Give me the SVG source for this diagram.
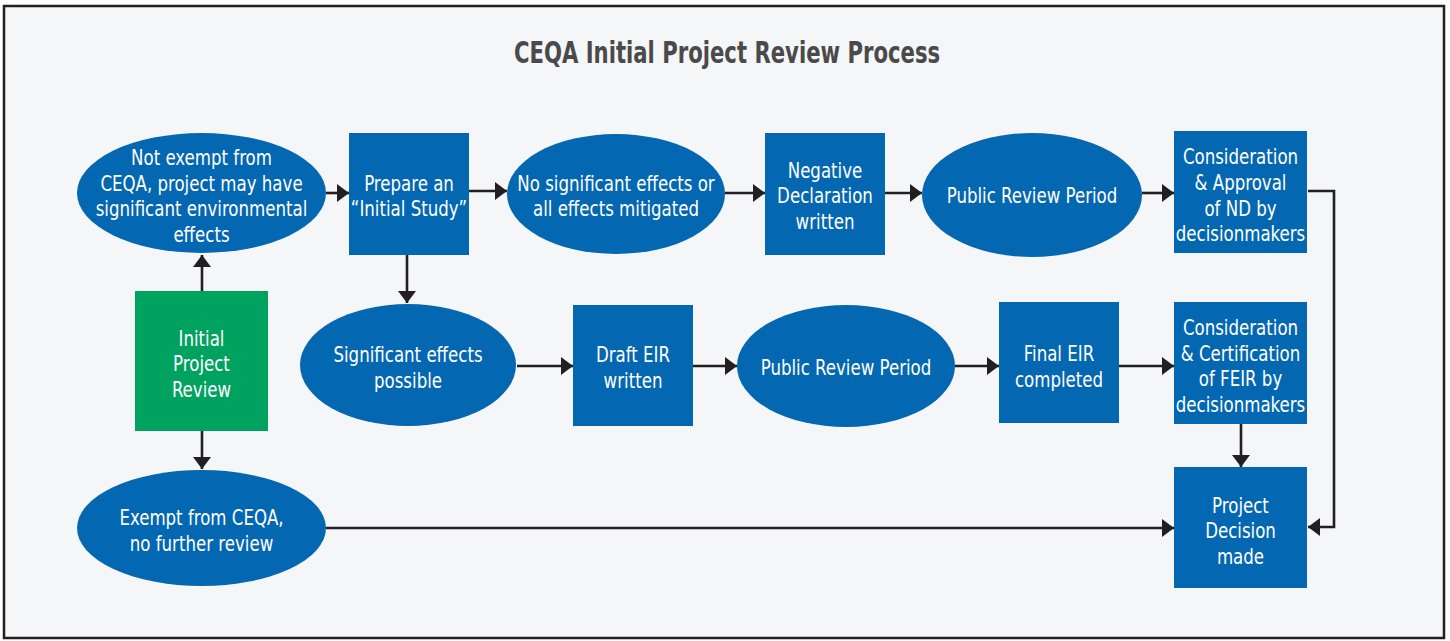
<svg xmlns="http://www.w3.org/2000/svg" width="1450" height="641" viewBox="0 0 1450 641">
<style>
.t{font-family:"DejaVu Sans Condensed","Liberation Sans",sans-serif;font-size:21px;fill:#ffffff;text-anchor:middle;}
.title{font-family:"DejaVu Sans Condensed","Liberation Sans",sans-serif;font-size:31px;font-weight:bold;fill:#4a4a4a;text-anchor:middle;}
.b{fill:#0467b1;}
.g{fill:#00a25f;}
.c{fill:none;stroke:#231f20;stroke-width:2.6;}
</style>
<defs>
<marker id="ah" viewBox="0 0 12 18" refX="12" refY="9" markerWidth="12" markerHeight="18" orient="auto" markerUnits="userSpaceOnUse">
<path d="M0,0 L12,9 L0,18 Z" fill="#231f20"/>
</marker>
</defs>
<rect x="4" y="6" width="1440" height="632" fill="#f4f6f8" stroke="#231f20" stroke-width="2.5"/>
<text class="title" transform="translate(727 63) scale(0.76 1)" x="0" y="0">CEQA Initial Project Review Process</text>

<g id="connectors">
<path class="c" d="M202,291 V255" marker-end="url(#ah)"/>
<path class="c" d="M202,431 V469" marker-end="url(#ah)"/>
<path class="c" d="M326,193 H349" marker-end="url(#ah)"/>
<path class="c" d="M469,191 H507" marker-end="url(#ah)"/>
<path class="c" d="M407,255 V303" marker-end="url(#ah)"/>
<path class="c" d="M725,193 H765" marker-end="url(#ah)"/>
<path class="c" d="M885,193 H922" marker-end="url(#ah)"/>
<path class="c" d="M1142,193 H1174" marker-end="url(#ah)"/>
<path class="c" d="M1308,191 H1334 V527 H1308" marker-end="url(#ah)"/>
<path class="c" d="M517,366 H573" marker-end="url(#ah)"/>
<path class="c" d="M693,366 H737" marker-end="url(#ah)"/>
<path class="c" d="M955,366 H999" marker-end="url(#ah)"/>
<path class="c" d="M1119,366 H1174" marker-end="url(#ah)"/>
<path class="c" d="M1241,424 V467" marker-end="url(#ah)"/>
<path class="c" d="M326,528 H1174" marker-end="url(#ah)"/>
</g>

<g id="not-exempt">
<ellipse class="b" cx="201.5" cy="193" rx="124.5" ry="60"/>
<text class="t" transform="translate(201.5 0) scale(0.88 1)"><tspan x="0" y="165">Not exempt from</tspan><tspan x="0" y="191">CEQA, project may have</tspan><tspan x="0" y="216">significant environmental</tspan><tspan x="0" y="242">effects</tspan></text>
</g>
<g id="initial-study">
<rect class="b" x="349" y="133" width="120" height="122"/>
<text class="t" transform="translate(409 0) scale(0.88 1)"><tspan x="0" y="191">Prepare an</tspan><tspan x="0" y="216">“Initial Study”</tspan></text>
</g>
<g id="no-significant">
<ellipse class="b" cx="616" cy="194" rx="109" ry="60"/>
<text class="t" transform="translate(616 0) scale(0.88 1)"><tspan x="0" y="191">No significant effects or</tspan><tspan x="0" y="216">all effects mitigated</tspan></text>
</g>
<g id="negative-declaration">
<rect class="b" x="765" y="133" width="120" height="122"/>
<text class="t" transform="translate(825 0) scale(0.88 1)"><tspan x="0" y="178">Negative</tspan><tspan x="0" y="203">Declaration</tspan><tspan x="0" y="229">written</tspan></text>
</g>
<g id="public-review-1">
<ellipse class="b" cx="1032" cy="195" rx="110" ry="62"/>
<text class="t" transform="translate(1032 0) scale(0.88 1)" x="0" y="203">Public Review Period</text>
</g>
<g id="approval-nd">
<rect class="b" x="1174" y="131" width="133" height="122"/>
<text class="t" transform="translate(1240.5 0) scale(0.88 1)"><tspan x="0" y="164">Consideration</tspan><tspan x="0" y="190">&amp; Approval</tspan><tspan x="0" y="216">of ND by</tspan><tspan x="0" y="241">decisionmakers</tspan></text>
</g>
<g id="initial-review">
<rect class="g" x="135" y="291" width="133" height="140"/>
<text class="t" transform="translate(201.5 0) scale(0.88 1)"><tspan x="0" y="346">Initial</tspan><tspan x="0" y="371">Project</tspan><tspan x="0" y="397">Review</tspan></text>
</g>
<g id="significant-possible">
<ellipse class="b" cx="408" cy="365" rx="108" ry="61"/>
<text class="t" transform="translate(408 0) scale(0.88 1)"><tspan x="0" y="362">Significant effects</tspan><tspan x="0" y="388">possible</tspan></text>
</g>
<g id="draft-eir">
<rect class="b" x="573" y="305" width="120" height="121"/>
<text class="t" transform="translate(633 0) scale(0.88 1)"><tspan x="0" y="362">Draft EIR</tspan><tspan x="0" y="388">written</tspan></text>
</g>
<g id="public-review-2">
<ellipse class="b" cx="846" cy="366" rx="109" ry="61"/>
<text class="t" transform="translate(846 0) scale(0.88 1)" x="0" y="375">Public Review Period</text>
</g>
<g id="final-eir">
<rect class="b" x="999" y="302" width="120" height="121"/>
<text class="t" transform="translate(1059 0) scale(0.88 1)"><tspan x="0" y="361">Final EIR</tspan><tspan x="0" y="387">completed</tspan></text>
</g>
<g id="certification-feir">
<rect class="b" x="1174" y="302" width="133" height="122"/>
<text class="t" transform="translate(1240.5 0) scale(0.88 1)"><tspan x="0" y="335">Consideration</tspan><tspan x="0" y="361">&amp; Certification</tspan><tspan x="0" y="386">of FEIR by</tspan><tspan x="0" y="412">decisionmakers</tspan></text>
</g>
<g id="exempt">
<ellipse class="b" cx="201.5" cy="528" rx="124.5" ry="58"/>
<text class="t" transform="translate(201.5 0) scale(0.88 1)"><tspan x="0" y="525">Exempt from CEQA,</tspan><tspan x="0" y="551">no further review</tspan></text>
</g>
<g id="project-decision">
<rect class="b" x="1174" y="467" width="133" height="121"/>
<text class="t" transform="translate(1240.5 0) scale(0.88 1)"><tspan x="0" y="513">Project</tspan><tspan x="0" y="538">Decision</tspan><tspan x="0" y="564">made</tspan></text>
</g>
</svg>
